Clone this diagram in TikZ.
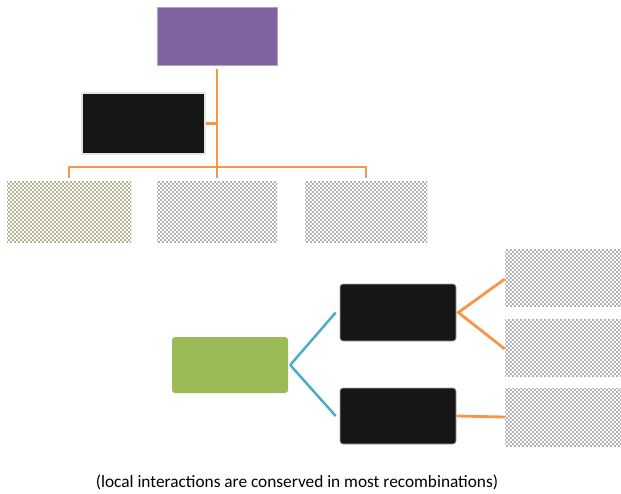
\documentclass[tikz,border=0pt]{standalone}
\usepackage{fontspec}
\setmainfont{Carlito}
\usetikzlibrary{patterns}
\definecolor{cpurple}{HTML}{8064A2}
\definecolor{cgreen}{HTML}{9BBB59}
\definecolor{cblack}{HTML}{161616}
\definecolor{corange}{HTML}{F79646}
\definecolor{cblue}{HTML}{4BACC6}
\pgfdeclarepatternformonly{mydots}{\pgfqpoint{-1pt}{-1pt}}{\pgfqpoint{5pt}{5pt}}{\pgfqpoint{4pt}{4pt}}{%
  \pgfpathcircle{\pgfqpoint{1pt}{1pt}}{0.95pt}%
  \pgfpathcircle{\pgfqpoint{3pt}{3pt}}{0.95pt}%
  \pgfusepath{fill}}
\begin{document}
\begin{tikzpicture}[x=1pt,y=-1pt,
  box/.style={rectangle,inner sep=0pt,anchor=center},
  dotbox/.style={box,pattern=mydots,pattern color=black!62},
  darkbox/.style={box,fill=cblack,draw=black!35,line width=0.6pt,rounded corners=3pt},
  ol/.style={draw=corange,line width=2.8pt},
  bl/.style={draw=cblue,line width=2.5pt}]
\useasboundingbox (0,0) rectangle (621,493);
\node[box,fill=cpurple,draw=cpurple!60,line width=0.6pt,minimum width=120pt,minimum height=58pt] (purple) at (217,36) {};
\node[box,fill=cblack,draw=black!10,line width=2pt,minimum width=123pt,minimum height=61pt] (btop) at (143.5,123.5) {};
\node[dotbox,preaction={fill=yellow!10!white},minimum width=124pt,minimum height=61pt] (g1) at (69,211.5) {};
\node[dotbox,minimum width=120pt,minimum height=61pt] (g2) at (217,211.5) {};
\node[dotbox,minimum width=122pt,minimum height=61pt] (g3) at (366,211.5) {};
\coordinate (j) at (217,167);
\draw[ol] ([yshift=-4pt]purple.south) -- ([yshift=3pt]g2.north);
\draw[ol] (btop.east) -- (btop.east -| purple.south);
\draw[ol] ([yshift=3pt]g1.north) |- (j) -| ([yshift=3pt]g3.north);
\node[box,fill=cgreen,rounded corners=3pt,minimum width=116pt,minimum height=56pt] (green) at (230,365) {};
\node[darkbox,minimum width=116pt,minimum height=57pt] (ba) at (398,312.5) {};
\node[darkbox,minimum width=116pt,minimum height=56pt] (bb) at (398,416) {};
\node[dotbox,minimum width=116pt,minimum height=57pt] (r1) at (563,277.5) {};
\node[dotbox,minimum width=116pt,minimum height=57pt] (r2) at (563,348) {};
\node[dotbox,minimum width=116pt,minimum height=58pt] (r3) at (563,417) {};
\draw[bl] ([xshift=2pt]green.east) -- ([xshift=-4pt]ba.west);
\draw[bl] ([xshift=2pt]green.east) -- ([xshift=-4pt]bb.west);
\draw[ol,line join=miter] ([yshift=-1.5pt]r1.west) -- ([xshift=2pt]ba.east) -- ([yshift=-1pt]r2.west);
\draw[ol] (bb.east) -- (r3.west);
\node[font=\fontsize{17.3}{20}\selectfont] (cap) at (297,482) {(local interactions are conserved in most recombinations)};
\end{tikzpicture}
\end{document}
